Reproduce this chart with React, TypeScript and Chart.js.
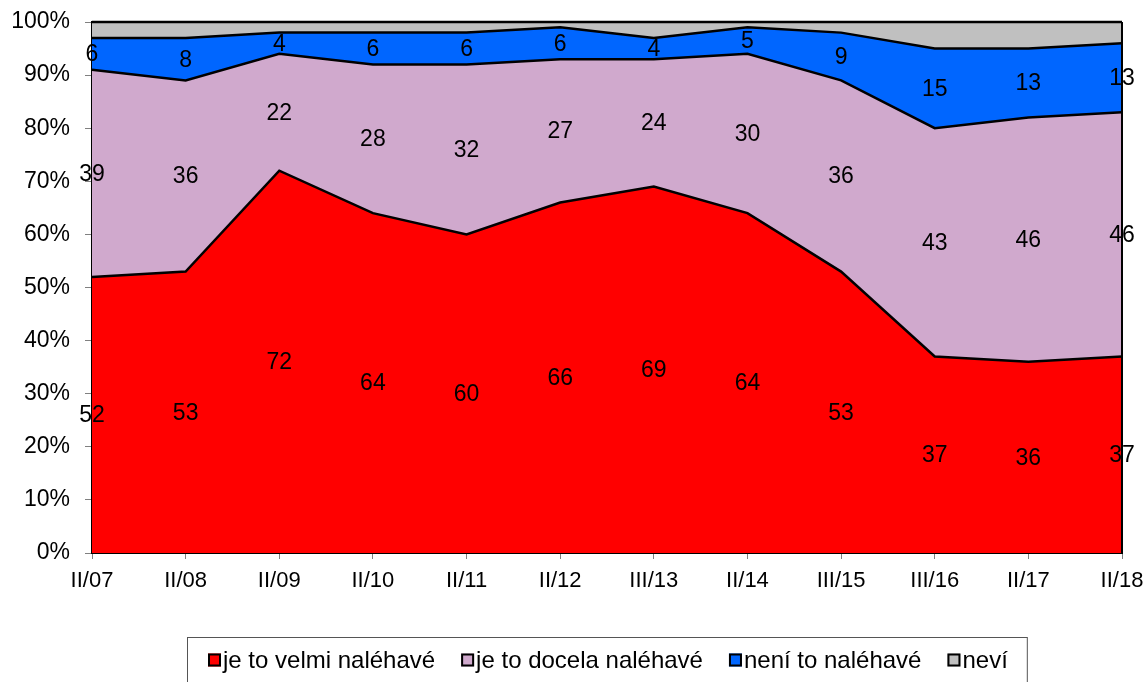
import React, { useEffect, useRef } from "react";
import { Chart, registerables } from "chart.js";

Chart.register(...registerables);

const categories = ["II/07", "II/08", "II/09", "II/10", "II/11", "II/12", "III/13", "II/14", "III/15", "III/16", "II/17", "II/18"];
const velmi = [52, 53, 72, 64, 60, 66, 69, 64, 53, 37, 36, 37];
const docela = [39, 36, 22, 28, 32, 27, 24, 30, 36, 43, 46, 46];
const neni = [6, 8, 4, 6, 6, 6, 4, 5, 9, 15, 13, 13];
const nevi = [3, 3, 2, 2, 2, 1, 3, 1, 2, 5, 5, 4];
const yTicks = [0, 10, 20, 30, 40, 50, 60, 70, 80, 90, 100];

const seriesLabels = ["je to velmi naléhavé", "je to docela naléhavé", "není to naléhavé", "neví"];
const seriesColors = ["#FF0000", "#D0A9CD", "#0066FF", "#C0C0C0"];

const FONT = '"Liberation Sans", Arial, sans-serif';

const dataLabelPlugin = {
  id: "dataLabels",
  afterDatasetsDraw(chart: any) {
    const ctx = chart.ctx;
    const ys = chart.scales.y;
    const xs = chart.scales.x;
    const labeled = [velmi, docela, neni];
    ctx.save();
    ctx.font = `23px ${FONT}`;
    ctx.fillStyle = "#000";
    ctx.textAlign = "center";
    ctx.textBaseline = "middle";
    categories.forEach((_, i) => {
      let base = 0;
      labeled.forEach((arr) => {
        const v = arr[i];
        const py = ys.getPixelForValue(base + v / 2);
        ctx.fillText(String(v), xs.getPixelForValue(i), py + 1);
        base += v;
      });
    });
    ctx.restore();
  },
};

const edgePlugin = {
  id: "edges",
  afterDatasetsDraw(chart: any) {
    const ctx = chart.ctx;
    const a = chart.chartArea;
    ctx.save();
    ctx.strokeStyle = "#000";
    ctx.lineWidth = 2;
    ctx.beginPath();
    ctx.moveTo(a.right, a.top);
    ctx.lineTo(a.right, a.bottom);
    ctx.stroke();
    ctx.restore();
  },
};

const legendPlugin = {
  id: "customLegend",
  afterDraw(chart: any) {
    const ctx = chart.ctx;
    const a = chart.chartArea;
    ctx.save();
    ctx.font = `24px ${FONT}`;
    const box = 13;
    const gapBoxText = 2;
    const itemGap = 26;
    const pad = 20;
    const ds = chart.data.datasets;
    const widths = ds.map((d: any) => ctx.measureText(d.label).width);
    const itemsW = widths.reduce((s: number, w: number) => s + box + gapBoxText + w, 0) + itemGap * (ds.length - 1);
    const totalW = itemsW + pad * 2;
    const cx = (a.left + a.right) / 2;
    const left = Math.round(cx - totalW / 2) + 0.5;
    const top = 637.5;
    const h = 50;
    ctx.strokeStyle = "#555";
    ctx.lineWidth = 1;
    ctx.strokeRect(left, top, totalW, h);
    let x = Math.round(left + pad);
    const cy = 660;
    ctx.textBaseline = "middle";
    ctx.textAlign = "left";
    ds.forEach((d: any, i: number) => {
      ctx.fillStyle = d.backgroundColor;
      ctx.fillRect(x, cy - box / 2, box, box);
      ctx.strokeStyle = "#000";
      ctx.lineWidth = 2;
      ctx.strokeRect(x + 1, cy - box / 2 + 1, box - 2, box - 2);
      ctx.fillStyle = "#000";
      ctx.fillText(d.label, x + box + gapBoxText, cy + 1);
      x += box + gapBoxText + widths[i] + itemGap;
    });
    ctx.restore();
  },
};

export default function App() {
  const ref = useRef<HTMLCanvasElement | null>(null);

  useEffect(() => {
    if (!ref.current) return;
    const series = [velmi, docela, neni, nevi];
    const chart = new Chart(ref.current, {
      type: "line",
      data: {
        labels: categories,
        datasets: series.map((s, i) => ({
          label: seriesLabels[i],
          data: s,
          backgroundColor: seriesColors[i],
          borderColor: "#000",
          borderWidth: 2.5,
          pointRadius: 0,
          tension: 0,
          fill: i === 0 ? "origin" : "-1",
          clip: false as any,
        })),
      },
      options: {
        responsive: false,
        animation: false,
        layout: { padding: { left: 0, top: 22, right: 26, bottom: 0 } },
        plugins: {
          legend: { display: false },
          tooltip: { enabled: false },
        },
        scales: {
          x: {
            offset: false,
            grid: { drawOnChartArea: false, drawTicks: true, tickLength: 6, color: "#808080" },
            border: { color: "#000", width: 2 },
            ticks: { font: { size: 22, family: FONT }, color: "#000", padding: 9, maxRotation: 0, autoSkip: false },
            afterFit: (scale: any) => {
              scale.height = 129;
              scale.paddingLeft = 0;
              scale.paddingRight = 0;
            },
          },
          y: {
            stacked: true,
            min: 0,
            max: 100,
            afterBuildTicks: (scale: any) => {
              scale.ticks = yTicks.map((v) => ({ value: v }));
            },
            grid: { drawOnChartArea: false, drawTicks: true, tickLength: 7, color: "#808080" },
            border: { color: "#000", width: 2 },
            ticks: {
              font: { size: 23, family: FONT },
              color: "#000",
              padding: 15,
              callback: (v: any) => `${v}%`,
            },
            afterFit: (scale: any) => {
              scale.width = 92;
              scale.paddingTop = 0;
              scale.paddingBottom = 0;
            },
          },
        },
      },
      plugins: [edgePlugin, dataLabelPlugin, legendPlugin],
    });
    return () => chart.destroy();
  }, []);

  return (
    <div style={{ position: "fixed", left: 0, top: 0, width: 1148, height: 682, background: "#fff" }}>
      <canvas ref={ref} width={1148} height={682} style={{ width: 1148, height: 682, display: "block" }} />
    </div>
  );
}
